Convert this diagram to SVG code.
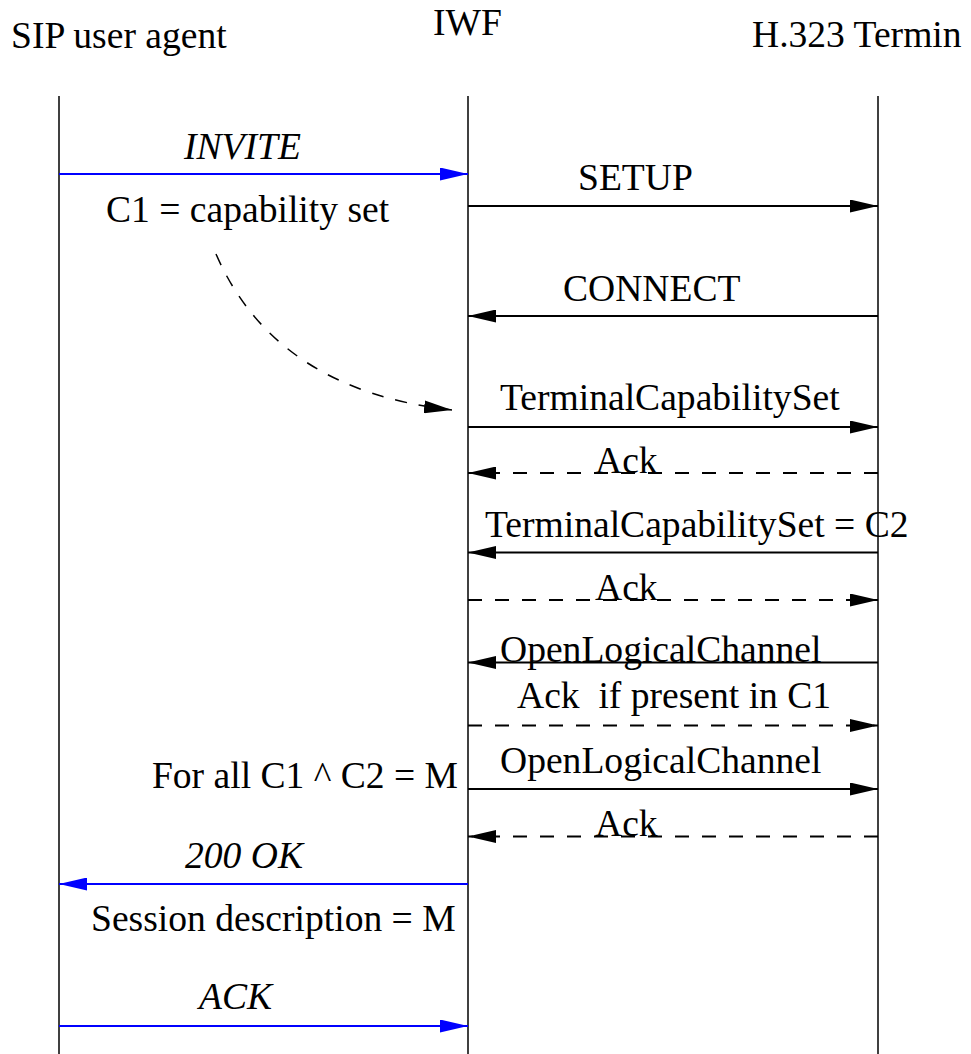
<svg xmlns="http://www.w3.org/2000/svg" width="971" height="1054" viewBox="0 0 971 1054">
  <style>
    text { font-family: "Liberation Serif", "Times New Roman", serif; font-size: 37.6px; fill: #000; white-space: pre; }
    .it { font-style: italic; }
    .life { stroke: #000; stroke-width: 1.5; fill: none; }
    .msg { stroke: #000; stroke-width: 2; fill: none; marker-end: url(#ah); }
    .sip { stroke: #0000ff; stroke-width: 2; fill: none; marker-end: url(#ahb); }
    .dash { stroke-dasharray: 14 13; }
    .note { stroke: #000; stroke-width: 1.5; fill: none; stroke-dasharray: 12 12; marker-end: url(#ah); }
  </style>
  <defs>
    <marker id="ah" viewBox="0 0 28 13" markerWidth="28" markerHeight="13" refX="28" refY="6.5" orient="auto" markerUnits="userSpaceOnUse">
      <path d="M0,0 L28,6.5 L0,13 z" fill="#000"/>
    </marker>
    <marker id="ahb" viewBox="0 0 28 13" markerWidth="28" markerHeight="13" refX="28" refY="6.5" orient="auto" markerUnits="userSpaceOnUse">
      <path d="M0,0 L28,6.5 L0,13 z" fill="#0000ff"/>
    </marker>
  </defs>

  <!-- participants with their lifelines -->
  <g id="sip-ua">
    <text x="11" y="48">SIP user agent</text>
    <line class="life" x1="59" y1="96" x2="59" y2="1054"/>
  </g>
  <g id="iwf">
    <text x="433" y="35">IWF</text>
    <line class="life" x1="468" y1="96" x2="468" y2="1054"/>
  </g>
  <g id="h323">
    <text x="752" y="47">H.323 Termin</text>
    <line class="life" x1="878" y1="96" x2="878" y2="1054"/>
  </g>

  <!-- message arrows -->
  <g id="connectors">
    <line class="sip" x1="59" y1="174" x2="468" y2="174"/>
    <line class="msg" x1="468" y1="206" x2="878" y2="206"/>
    <line class="msg" x1="878" y1="316" x2="468" y2="316"/>
    <path class="note" d="M216,254 Q275,390 452,410"/>
    <line class="msg" x1="468" y1="427" x2="878" y2="427"/>
    <line class="msg dash" x1="878" y1="473" x2="468" y2="473"/>
    <line class="msg" x1="878" y1="552.5" x2="468" y2="552.5"/>
    <line class="msg dash" x1="468" y1="600" x2="878" y2="600"/>
    <line class="msg" x1="878" y1="662.5" x2="468" y2="662.5"/>
    <line class="msg dash" x1="468" y1="725.5" x2="878" y2="725.5"/>
    <line class="msg" x1="468" y1="789" x2="878" y2="789"/>
    <line class="msg dash" x1="878" y1="836.5" x2="468" y2="836.5"/>
    <line class="sip" x1="468" y1="884" x2="59" y2="884"/>
    <line class="sip" x1="59" y1="1026" x2="468" y2="1026"/>
  </g>

  <!-- message labels and annotations -->
  <g id="labels">
    <text class="it" x="184" y="159">INVITE</text>
    <text x="106" y="222">C1 = capability set</text>
    <text x="578" y="190">SETUP</text>
    <text x="563" y="301">CONNECT</text>
    <text x="500" y="410">TerminalCapabilitySet</text>
    <text x="595" y="473">Ack</text>
    <text x="485" y="537">TerminalCapabilitySet = C2</text>
    <text x="595" y="600">Ack</text>
    <text x="500" y="662">OpenLogicalChannel</text>
    <text x="517" y="708">Ack  if present in C1</text>
    <text x="500" y="773">OpenLogicalChannel</text>
    <text x="458" y="788" text-anchor="end">For all C1 ^ C2 = M</text>
    <text x="595" y="836">Ack</text>
    <text class="it" x="185" y="868">200 OK</text>
    <text x="91" y="931">Session description = M</text>
    <text class="it" x="199" y="1009">ACK</text>
  </g>
</svg>
